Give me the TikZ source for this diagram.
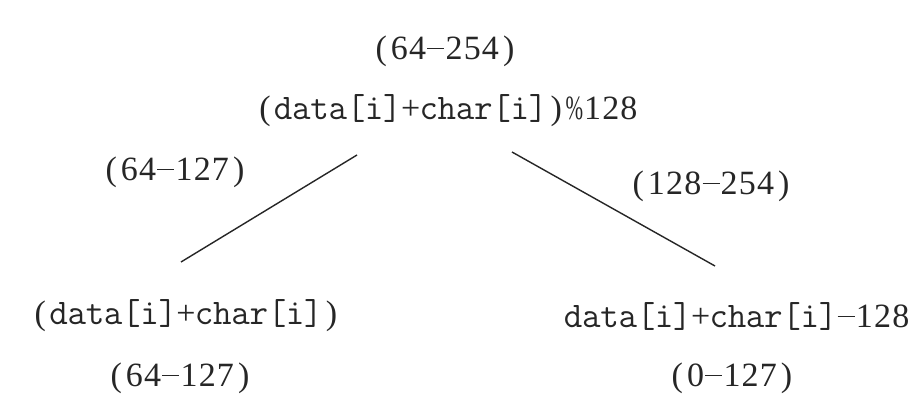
\documentclass[tikz,border=0pt]{standalone}
\usepackage{fontspec}
\usepackage{graphicx}
\setmainfont{Liberation Serif}
\newcommand\ttmix{\ttfamily\fontsize{36}{40}\selectfont}
\ExplSyntaxOn
\NewDocumentCommand\mono{m}{
  \tl_map_inline:nn {#1}
    { \makebox[18.2pt]{ \str_if_in:nnTF {0123456789()+} {##1} {##1} {\ttmix ##1} } }
}
\ExplSyntaxOff
\newcommand\dsh{\rule[10pt]{17pt}{1.4pt}}
\newcommand\pct{\rmfamily\fontsize{34}{40}\selectfont\scalebox{0.62}[1]{\%}}
\begin{document}
\begin{tikzpicture}[x=1pt,y=-1pt,
  lbl/.style={font=\fontsize{34}{40}\selectfont, inner sep=0pt, text=black!85},
  conn/.style={line width=1.4pt, draw=black!85}]
\useasboundingbox[fill=white] (0,0) rectangle (924,404);
\node[lbl] (top)   at (445,51)  {\mono{(64\dsh254)}};
\node[lbl] (expr)  at (447,111) {\mono{(data[i]+char[i])\pct128}};
\node[lbl] (ll)    at (175,172) {\mono{(64\dsh127)}};
\node[lbl] (rl)    at (711,186) {\mono{(128\dsh254)}};
\node[lbl] (left)  at (186,316) {\mono{(data[i]+char[i])}};
\node[lbl] (right) at (737,316) {\mono{data[i]+char[i]\dsh128}};
\node[lbl] (lr)    at (180,378) {\mono{(64\dsh127)}};
\node[lbl] (rr)    at (732,378) {\mono{(0\dsh127)}};
\coordinate (a1) at (357,155);
\coordinate (a2) at (181,262);
\coordinate (b1) at (512,152);
\coordinate (b2) at (715,266);
\draw[conn] (a1) -- (a2);
\draw[conn] (b1) -- (b2);
\end{tikzpicture}
\end{document}
